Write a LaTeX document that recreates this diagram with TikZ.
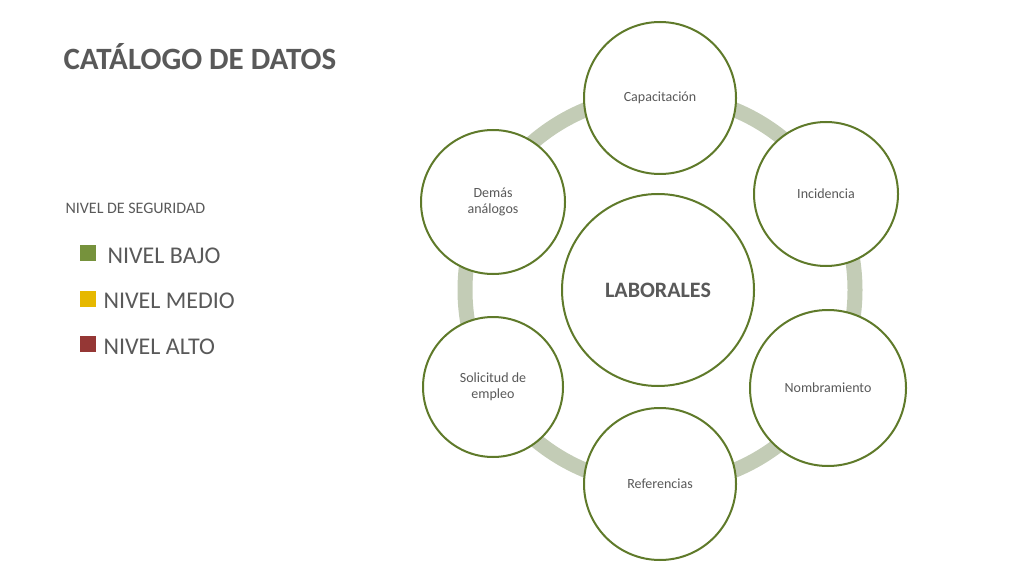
\documentclass[tikz,border=0pt]{standalone}
\usepackage{fontspec}
\setmainfont{Carlito}
\usetikzlibrary{shadows}
\definecolor{ring}{HTML}{C3CCB6}
\definecolor{olive}{HTML}{5F7A2A}
\definecolor{txt}{HTML}{595959}
\definecolor{sqg}{HTML}{76923C}
\definecolor{sqy}{HTML}{E6B800}
\definecolor{sqr}{HTML}{953735}
\begin{document}
\begin{tikzpicture}[x=1pt,y=-1pt,
  circ/.style={circle,draw=olive,line width=2pt,fill=white,text=txt,font=\fontsize{14}{16}\selectfont,align=center,inner sep=0pt},
  sq/.style={draw=white,line width=1.5pt,minimum size=18pt,inner sep=0pt,drop shadow={opacity=0.3,shadow xshift=1pt,shadow yshift=-1pt}},
  leg/.style={anchor=west,text=txt,font=\fontsize{24}{28}\selectfont}]
\useasboundingbox (0,0) rectangle (1024,577);
\draw[ring,line width=15pt] (660,290) circle (195);
\node[circ,minimum size=152pt] (cap) at (660,98) {Capacitación};
\node[circ,minimum size=144pt] (inc) at (826,194) {Incidencia};
\node[circ,minimum size=156pt] (nom) at (828,388) {Nombramiento};
\node[circ,minimum size=152pt] (ref) at (660,484) {Referencias};
\node[circ,minimum size=140pt] (sol) at (493,387) {Solicitud de\\empleo};
\node[circ,minimum size=144pt] (dem) at (493,202) {Demás\\análogos};
\node[circ,minimum size=192pt,font=\fontsize{22}{26}\selectfont\bfseries] (lab) at (658,290) {LABORALES};
\node[anchor=west,text=txt,font=\fontsize{31}{36}\selectfont\bfseries] (title) at (60,57) {CATÁLOGO DE DATOS};
\node[anchor=west,text=txt,font=\fontsize{16}{19}\selectfont] (niv) at (62,208) {NIVEL DE SEGURIDAD};
\node[sq,fill=sqg] (s1) at (88,253) {};
\node[sq,fill=sqy] (s2) at (88,299) {};
\node[sq,fill=sqr] (s3) at (88,344) {};
\node[leg] (l1) at (104,256) {NIVEL BAJO};
\node[leg] (l2) at (100,301) {NIVEL MEDIO};
\node[leg] (l3) at (100,347) {NIVEL ALTO};
\end{tikzpicture}
\end{document}
